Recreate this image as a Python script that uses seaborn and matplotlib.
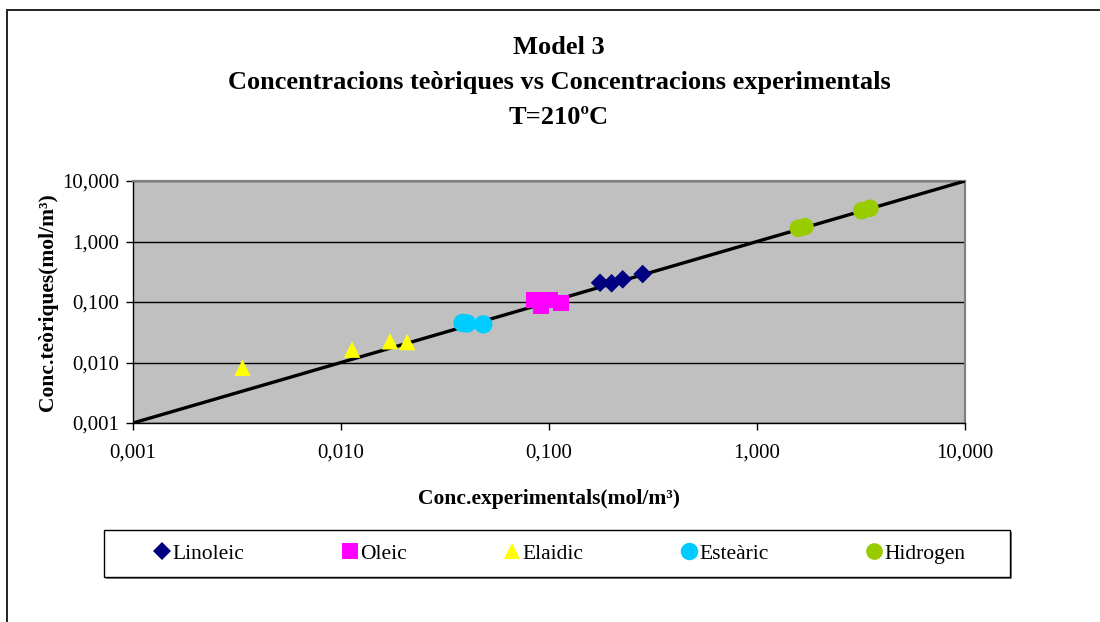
import matplotlib
matplotlib.use("Agg")
import matplotlib.pyplot as plt
from matplotlib.ticker import FixedLocator, FuncFormatter, NullLocator
from matplotlib.lines import Line2D
from matplotlib.patches import Rectangle
import seaborn as sns
import pandas as pd

# Experimental vs. theoretical concentrations (mol/m3), model 3, T = 210 ºC
linoleic_exp = [0.176, 0.200, 0.226, 0.282]
linoleic_teo = [0.208, 0.204, 0.237, 0.290]

oleic_exp = [0.0843, 0.1014, 0.0912, 0.1138]
oleic_teo = [0.108, 0.107, 0.085, 0.097]

elaidic_exp = [0.00336, 0.0113, 0.0172, 0.0208]
elaidic_teo = [0.00817, 0.0163, 0.0224, 0.0218]

estearic_exp = [0.0384, 0.0404, 0.0483]
estearic_teo = [0.0450, 0.0441, 0.0427]

hidrogen_exp = [1.58, 1.70, 3.19, 3.49]
hidrogen_teo = [1.65, 1.76, 3.23, 3.54]

series_names = ["Linoleic", "Oleic", "Elaidic", "Esteàric", "Hidrogen"]

# y = x reference line over the axis range
ideal_x = [0.001, 10]
ideal_y = [0.001, 10]

tick_values = [0.001, 0.01, 0.1, 1, 10]

plt.rcParams["font.family"] = ["Liberation Serif", "DejaVu Serif"]

frames = []
for name, xs, ys in zip(
    series_names,
    [linoleic_exp, oleic_exp, elaidic_exp, estearic_exp, hidrogen_exp],
    [linoleic_teo, oleic_teo, elaidic_teo, estearic_teo, hidrogen_teo],
):
    frames.append(pd.DataFrame({"exp": xs, "teo": ys, "serie": name}))
data = pd.concat(frames, ignore_index=True)

styles = {
    "Linoleic": dict(marker="D", color="#000080", s=90),
    "Oleic": dict(marker="s", color="#FF00FF", s=135),
    "Elaidic": dict(marker="^", color="#FFFF00", s=140),
    "Esteàric": dict(marker="o", color="#00CCFF", s=175),
    "Hidrogen": dict(marker="o", color="#99CC00", s=160),
}

fig = plt.figure(figsize=(11, 6.22), dpi=100)
fig.patch.set_facecolor("white")
ax = fig.add_axes([133 / 1100, 1 - 423 / 622, 832 / 1100, 242 / 622])
ax.set_facecolor("#C0C0C0")

ax.set_xscale("log")
ax.set_yscale("log")
ax.set_xlim(0.001, 10)
ax.set_ylim(0.001, 10)

sns.lineplot(x=ideal_x, y=ideal_y, ax=ax, color="black", linewidth=2.4, zorder=3)

for name in series_names:
    st = styles[name]
    sub = data[data["serie"] == name]
    sns.scatterplot(
        data=sub, x="exp", y="teo", ax=ax, marker=st["marker"], color=st["color"],
        s=st["s"], linewidth=0, edgecolor="none", zorder=4, legend=False,
    )

fmt = FuncFormatter(lambda v, p: f"{v:.3f}".replace(".", ","))
for axis in (ax.xaxis, ax.yaxis):
    axis.set_major_locator(FixedLocator(tick_values))
    axis.set_minor_locator(NullLocator())
    axis.set_major_formatter(fmt)

ax.yaxis.grid(True, color="black", linewidth=1.0)
ax.xaxis.grid(False)
ax.set_axisbelow(True)
ax.tick_params(axis="both", direction="out", length=5, width=1, color="black",
               labelsize=15)
ax.tick_params(axis="y", pad=5)
ax.tick_params(axis="x", pad=10)

for side in ("left", "bottom"):
    ax.spines[side].set_color("black")
    ax.spines[side].set_linewidth(1.0)
for side in ("top", "right"):
    ax.spines[side].set_color("#808080")
    ax.spines[side].set_linewidth(1.6)

ax.set_xlabel("Conc.experimentals(mol/m³)", fontsize=15.5, fontweight="bold", labelpad=19)
ax.set_ylabel("Conc.teòriques(mol/m³)", fontsize=15.5, fontweight="bold", labelpad=3)

title_kw = dict(ha="center", va="center", fontsize=19, fontweight="bold")
title_x = 559 / 1100
fig.text(title_x, 1 - 47 / 622, "Model 3", **title_kw)
fig.text(title_x, 1 - 82 / 622, "Concentracions teòriques vs Concentracions experimentals", **title_kw)
fig.text(title_x, 1 - 117 / 622, "T=210ºC", **title_kw)

# Outer chart frame (open to the right and bottom edges)
fig.patches.append(Rectangle((7 / 1100, -0.05), 1.2, 1 - 10 / 622 + 0.05,
                             transform=fig.transFigure, fill=False,
                             edgecolor="#222222", linewidth=1.4))

# Legend box with a thin drop shadow
box_x0, box_x1, box_top, box_bot = 104, 1010, 530, 577
fig.patches.append(Rectangle(((box_x0 + 2) / 1100, 1 - (box_bot + 2) / 622),
                             (box_x1 - box_x0) / 1100, (box_bot - box_top) / 622,
                             transform=fig.transFigure, facecolor="#808080",
                             edgecolor="none", zorder=1))
fig.patches.append(Rectangle((box_x0 / 1100, 1 - box_bot / 622),
                             (box_x1 - box_x0) / 1100, (box_bot - box_top) / 622,
                             transform=fig.transFigure, facecolor="white",
                             edgecolor="black", linewidth=1.0, zorder=2))

handles = [
    Line2D([], [], linestyle="none", marker=styles[n]["marker"], color=styles[n]["color"],
           markersize=(styles[n]["s"] ** 0.5) * 0.95, markeredgewidth=0)
    for n in series_names
]
leg = fig.legend(
    handles, series_names, ncol=5, mode="expand",
    bbox_to_anchor=(148 / 1100, 1 - 577 / 622, 824 / 1100, 47 / 622),
    loc="center", fontsize=15.5, frameon=False,
    handlelength=0.7, handletextpad=0.15, borderpad=0.3, borderaxespad=0,
)
leg.set_zorder(3)

fig.savefig("out.png", dpi=100)
